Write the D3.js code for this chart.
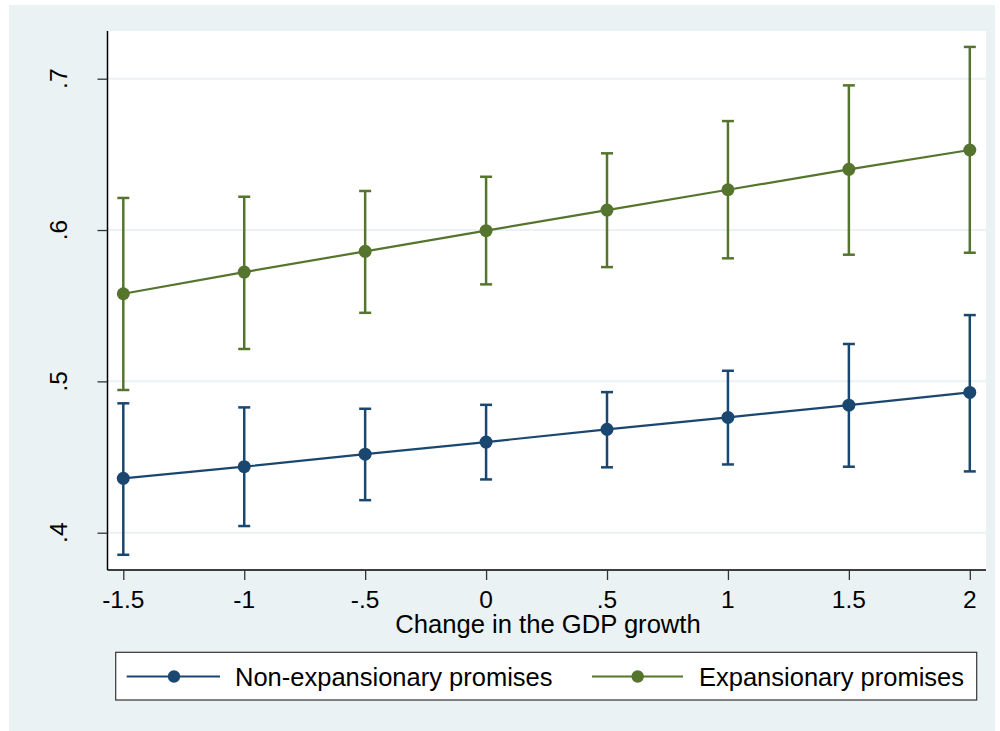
<!DOCTYPE html>
<html>
<head>
<meta charset="utf-8">
<script src="https://cdn.jsdelivr.net/npm/d3@7"></script>
<style>
  body { margin: 0; background: #fff; }
  text { font-family: "Liberation Sans", Arial, sans-serif; fill: #000; }
</style>
</head>
<body>
<div id="viz"></div>
<script>
// values
const xValues = [-1.5, -1, -0.5, 0, 0.5, 1, 1.5, 2];
const xTickLabels = ["-1.5", "-1", "-.5", "0", ".5", "1", "1.5", "2"];
const yTicks = [0.4, 0.5, 0.6, 0.7];
const yTickLabels = [".4", ".5", ".6", ".7"];

const nonExpMargin = [0.4359, 0.4436, 0.4519, 0.4599, 0.4683, 0.4762, 0.4843, 0.4927];
const nonExpUpper  = [0.4855, 0.4828, 0.4819, 0.4845, 0.4929, 0.5070, 0.5247, 0.5438];
const nonExpLower  = [0.3854, 0.4044, 0.4215, 0.4352, 0.4432, 0.4451, 0.4436, 0.4405];

const expMargin = [0.5579, 0.5722, 0.5859, 0.5996, 0.6132, 0.6266, 0.6401, 0.6529];
const expUpper  = [0.6212, 0.6220, 0.6258, 0.6352, 0.6507, 0.6720, 0.6956, 0.7210];
const expLower  = [0.4943, 0.5214, 0.5453, 0.5641, 0.5755, 0.5813, 0.5837, 0.5850];

const seriesNames = ["Non-expansionary promises", "Expansionary promises"];
const xTitle = "Change in the GDP growth";

const colors = ["#1a476f", "#55752f"];

const W = 1000, H = 731;
const svg = d3.select("#viz").append("svg")
  .attr("width", W).attr("height", H);

// graph region background
svg.append("rect")
  .attr("x", 9).attr("y", 5).attr("width", 986).attr("height", 726)
  .attr("fill", "#eaf2f3");

// plot region
const plot = {left: 107.5, right: 986, top: 31, bottom: 570};
svg.append("rect")
  .attr("x", plot.left).attr("y", plot.top)
  .attr("width", plot.right - plot.left).attr("height", plot.bottom - plot.top)
  .attr("fill", "#fff");

const xScale = d3.scaleLinear().domain([-1.5, 2]).range([123.3, 969.8]);
const yScale = d3.scaleLinear().domain([0.4, 0.7]).range([532.7, 78.7]);

// gridlines
svg.append("g").selectAll("line")
  .data(yTicks)
  .join("line")
    .attr("x1", plot.left).attr("x2", plot.right)
    .attr("y1", d => yScale(d)).attr("y2", d => yScale(d))
    .attr("stroke", "#eaf2f3").attr("stroke-width", 2);

// Y axis
const yAxisG = svg.append("g")
  .attr("transform", "translate(" + plot.left + ",0)")
  .call(d3.axisLeft(yScale).tickValues(yTicks).tickSize(10).tickFormat(""));
yAxisG.select(".domain").attr("d", "M0," + plot.top + "V" + plot.bottom).attr("stroke", "#000").attr("stroke-width", 1.5);
yAxisG.selectAll(".tick line").attr("stroke", "#333").attr("stroke-width", 1.3);
svg.append("g").selectAll("text")
  .data(yTicks)
  .join("text")
    .attr("transform", (d) => "translate(67," + yScale(d) + ") rotate(-90)")
    .attr("text-anchor", "middle")
    .style("font-size", "24.5px")
    .text((d, i) => yTickLabels[i]);

// X axis
const xAxisG = svg.append("g")
  .attr("transform", "translate(0," + plot.bottom + ")")
  .call(d3.axisBottom(xScale).tickValues(xValues).tickSize(10).tickFormat(""));
xAxisG.select(".domain").attr("d", "M" + plot.left + ",0H" + plot.right).attr("stroke", "#000").attr("stroke-width", 1.5);
xAxisG.selectAll(".tick line").attr("stroke", "#333").attr("stroke-width", 1.3);
svg.append("g").selectAll("text")
  .data(xValues)
  .join("text")
    .attr("x", d => xScale(d)).attr("y", 608)
    .attr("text-anchor", "middle")
    .style("font-size", "24.5px")
    .text((d, i) => xTickLabels[i]);

// X axis title
svg.append("text")
  .attr("x", 548).attr("y", 633)
  .attr("text-anchor", "middle")
  .style("font-size", "25.6px")
  .text(xTitle);

// series
const series = [
  {mid: nonExpMargin, lo: nonExpLower, hi: nonExpUpper, color: colors[0]},
  {mid: expMargin, lo: expLower, hi: expUpper, color: colors[1]}
];

series.forEach(s => {
  const g = svg.append("g");
  const pts = xValues.map((x, i) => ({x: x, m: s.mid[i], lo: s.lo[i], hi: s.hi[i]}));
  // error bars
  g.selectAll(".bar").data(pts).join("line")
    .attr("x1", d => xScale(d.x)).attr("x2", d => xScale(d.x))
    .attr("y1", d => yScale(d.lo)).attr("y2", d => yScale(d.hi))
    .attr("stroke", s.color).attr("stroke-width", 2.5);
  ["lo", "hi"].forEach(k => {
    g.selectAll(".cap-" + k).data(pts).join("line")
      .attr("x1", d => xScale(d.x) - 6).attr("x2", d => xScale(d.x) + 6)
      .attr("y1", d => yScale(d[k])).attr("y2", d => yScale(d[k]))
      .attr("stroke", s.color).attr("stroke-width", 2.5);
  });
  // connecting line
  g.append("path")
    .datum(pts)
    .attr("d", d3.line().x(d => xScale(d.x)).y(d => yScale(d.m)))
    .attr("fill", "none").attr("stroke", s.color).attr("stroke-width", 2.2);
  // markers
  g.selectAll("circle").data(pts).join("circle")
    .attr("cx", d => xScale(d.x)).attr("cy", d => yScale(d.m))
    .attr("r", 6.5).attr("fill", s.color);
});

// legend
const legend = svg.append("g");
legend.append("rect")
  .attr("x", 115.7).attr("y", 652.3).attr("width", 861).attr("height", 47.7)
  .attr("fill", "#fff").attr("stroke", "#333").attr("stroke-width", 1.2);
const legendItems = [
  {x1: 126.7, x2: 220, mx: 174, tx: 235},
  {x1: 592, x2: 683, mx: 637.7, tx: 699}
];
legendItems.forEach((it, i) => {
  legend.append("line")
    .attr("x1", it.x1).attr("x2", it.x2).attr("y1", 676.5).attr("y2", 676.5)
    .attr("stroke", colors[i]).attr("stroke-width", 2.2);
  legend.append("circle")
    .attr("cx", it.mx).attr("cy", 676.5).attr("r", 6.2).attr("fill", colors[i]);
  legend.append("text")
    .attr("x", it.tx).attr("y", 685.5)
    .style("font-size", "25.5px")
    .text(seriesNames[i]);
});
</script>
</body>
</html>
